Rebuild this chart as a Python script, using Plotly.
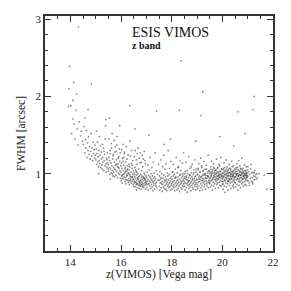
import plotly.graph_objects as go

# ---- data: z(VIMOS) magnitude and FWHM [arcsec] ----
mag_bright = [14.02,14.05,14.10,14.15,14.18,14.22,14.27,14.30,14.35,14.40,14.44,14.48,
    14.52,14.54,14.57,14.60,14.61,14.63,14.66,14.68,14.70,14.72,14.74,14.76,14.78,14.80,14.82,14.84,14.86,14.88,14.90,14.92,14.94,14.96,14.97,14.99,14.58]
fwhm_bright = [1.88,1.52,1.71,1.64,1.45,1.82,1.58,1.37,1.67,1.49,1.55,1.42,
    1.38,1.61,1.27,1.44,1.33,1.56,1.21,1.40,1.30,1.48,1.25,1.35,1.19,1.29,1.52,1.23,1.33,1.17,1.41,1.26,1.31,1.20,1.37,1.24,1.72]

mag_15 = [15.01,15.02,15.04,15.05,15.07,15.08,15.10,15.11,15.13,15.14,15.16,15.17,15.19,15.20,15.22,15.23,15.25,15.26,15.28,15.29,15.31,15.32,15.34,15.35,15.37,15.38,15.40,15.41,15.43,15.44,15.46,15.47,15.49,15.03,15.15,15.27,15.39,15.12,15.33,15.45,
    15.50,15.51,15.52,15.54,15.55,15.56,15.58,15.59,15.60,15.62,15.63,15.64,15.66,15.67,15.68,15.70,15.71,15.72,15.74,15.75,15.76,15.78,15.79,15.80,15.82,15.83,15.84,15.86,15.87,15.88,15.90,15.91,15.92,15.94,15.95,15.96,15.98,15.99,15.53,15.57,15.61,15.65,15.69,15.73,15.77,15.81,15.85,15.89,15.93,15.97,15.58,15.66,15.74,15.82,15.90]
fwhm_15 = [1.18,1.32,1.12,1.26,1.41,1.15,1.22,1.09,1.30,1.17,1.13,1.24,1.36,1.08,1.19,1.28,1.11,1.06,1.21,1.15,1.33,1.04,1.17,1.25,1.10,1.45,1.13,1.02,1.20,1.08,1.27,1.14,1.06,1.55,1.48,1.38,1.62,1.00,1.29,1.18,
    1.12,1.03,1.21,1.08,1.17,0.99,1.26,1.06,1.14,1.01,1.33,1.10,1.04,1.19,0.97,1.23,1.08,1.02,1.15,0.96,1.28,1.05,1.11,0.98,1.18,1.03,1.37,1.09,0.95,1.13,1.01,1.22,1.07,0.99,1.16,1.04,0.94,1.10,1.45,1.30,1.39,1.52,1.25,1.43,1.35,1.29,1.48,1.20,1.32,1.27,0.93,1.00,1.06,1.12,1.08]

mag_16 = [16.00,16.01,16.02,16.03,16.04,16.05,16.06,16.08,16.09,16.10,16.11,16.12,16.13,16.15,16.16,16.17,16.18,16.19,16.20,16.22,16.23,16.24,16.25,16.26,16.27,16.29,16.30,16.31,16.32,16.33,16.34,16.36,16.37,16.38,16.39,16.40,16.41,16.43,16.44,16.45,16.46,16.47,16.48,16.49,16.02,16.07,16.14,16.21,16.28,16.35,16.42,16.05,16.12,16.19,16.26,16.33,16.40,16.47,16.09,16.16,16.23,16.30,16.37,16.44,16.04,16.18,16.32,16.46,16.11,16.25,
    16.50,16.51,16.52,16.53,16.54,16.55,16.56,16.57,16.58,16.59,16.60,16.61,16.62,16.63,16.64,16.65,16.66,16.67,16.68,16.69,16.70,16.71,16.72,16.73,16.74,16.75,16.76,16.77,16.78,16.79,16.80,16.81,16.82,16.83,16.84,16.85,16.86,16.87,16.88,16.89,16.90,16.91,16.92,16.93,16.94,16.95,16.96,16.97,16.98,16.99,
    16.52,16.56,16.60,16.64,16.68,16.72,16.76,16.80,16.84,16.88,16.92,16.96,16.54,16.62,16.70,16.78,16.86,16.94,16.58,16.66,16.74,16.82,16.90,16.98,16.53,16.63,16.73,16.83,16.93,16.61]
fwhm_16 = [1.02,0.91,1.14,0.97,1.07,0.88,1.20,0.99,1.04,0.93,1.11,0.96,1.26,1.01,0.90,1.08,0.95,1.15,0.87,1.03,0.98,1.19,0.92,1.06,1.00,0.89,1.12,0.94,1.05,0.86,1.09,0.97,1.23,0.91,1.02,0.88,1.13,0.95,1.07,0.90,0.99,1.17,0.86,1.04,1.31,1.38,1.28,1.35,1.24,1.42,1.30,0.94,1.00,0.92,1.10,0.99,0.96,0.93,1.16,1.06,0.97,1.01,0.93,1.11,0.98,1.03,0.91,0.96,1.21,1.05,
    0.92,0.84,1.01,0.88,0.96,1.08,0.83,0.94,0.89,1.03,0.86,0.98,0.91,1.12,0.82,0.95,0.87,1.00,0.93,0.85,1.06,0.90,0.81,0.97,0.88,1.14,0.84,0.92,0.99,0.86,0.80,0.95,1.04,0.89,0.83,0.93,1.09,0.87,0.96,0.82,0.91,1.01,0.85,0.94,0.88,1.17,0.80,0.92,0.86,0.97,
    1.22,1.30,1.18,1.26,1.33,1.20,1.27,1.15,1.24,1.19,1.29,1.13,0.90,0.87,0.96,0.91,0.84,0.99,1.05,0.93,0.89,0.86,0.95,0.90,0.99,1.02,0.85,0.97,0.93,0.79]

mag_17 = [17.00,17.01,17.02,17.03,17.04,17.05,17.06,17.07,17.08,17.09,17.10,17.11,17.12,17.13,17.14,17.15,17.16,17.17,17.18,17.19,17.20,17.21,17.22,17.23,17.24,17.25,17.26,17.27,17.28,17.29,17.30,17.31,17.32,17.33,17.34,17.35,17.36,17.37,17.38,17.39,17.40,17.42,17.44,17.46,17.48,
    17.50,17.51,17.52,17.53,17.54,17.55,17.56,17.57,17.58,17.59,17.60,17.61,17.62,17.63,17.64,17.65,17.66,17.67,17.68,17.69,17.70,17.71,17.72,17.73,17.74,17.75,17.76,17.77,17.78,17.79,17.80,17.81,17.82,17.83,17.84,17.85,17.86,17.87,17.88,17.89,17.90,17.91,17.92,17.93,17.94,17.95,17.96,17.97,17.98,17.99]
fwhm_17 = [0.88,0.95,0.82,1.02,0.90,0.86,1.11,0.93,0.79,0.98,0.87,1.05,0.91,0.84,0.96,1.21,0.89,0.81,0.94,1.00,0.86,0.92,1.08,0.83,0.97,0.90,0.78,1.15,0.88,0.94,0.85,1.01,0.91,0.80,0.96,1.27,0.87,0.93,0.84,1.04,0.89,0.82,0.99,0.92,1.12,
    0.91,0.84,0.97,0.79,1.03,0.88,0.93,1.18,0.82,0.95,0.87,1.00,0.90,0.77,1.09,0.86,0.94,0.83,0.98,1.24,0.89,0.81,0.92,1.06,0.85,0.96,0.80,0.91,1.13,0.87,0.93,0.78,1.01,0.89,0.84,0.97,1.30,0.86,0.92,0.82,0.99,0.88,1.07,0.83,0.94,0.79,0.90,1.16,0.85,0.96]

mag_18 = [18.00,18.01,18.02,18.03,18.04,18.05,18.06,18.07,18.08,18.09,18.10,18.11,18.12,18.13,18.14,18.15,18.16,18.17,18.18,18.19,18.20,18.21,18.22,18.23,18.24,18.25,18.26,18.27,18.28,18.29,18.30,18.31,18.32,18.33,18.34,18.35,18.36,18.37,18.38,18.39,18.40,18.41,18.42,18.43,18.44,18.45,18.46,18.47,18.48,18.49,
    18.05,18.15,18.25,18.35,18.45,
    18.50,18.51,18.52,18.53,18.54,18.55,18.56,18.57,18.58,18.59,18.60,18.61,18.62,18.63,18.64,18.65,18.66,18.67,18.68,18.69,18.70,18.71,18.72,18.73,18.74,18.75,18.76,18.77,18.78,18.79,18.80,18.81,18.82,18.83,18.84,18.85,18.86,18.87,18.88,18.89,18.90,18.91,18.92,18.93,18.94,18.95,18.96,18.97,18.98,18.99,
    18.52,18.57,18.62,18.67,18.72,18.77,18.82,18.87,18.92,18.97]
fwhm_18 = [0.87,0.93,0.80,1.02,0.89,0.84,0.97,1.12,0.82,0.91,0.86,0.99,0.78,0.94,1.06,0.88,0.83,0.95,1.21,0.90,0.85,0.79,1.01,0.92,0.87,0.96,0.81,1.09,0.89,0.84,0.93,0.77,0.98,1.17,0.86,0.91,0.82,1.04,0.88,0.95,0.80,0.90,1.14,0.85,0.97,0.83,0.92,1.27,0.87,0.94,
    1.02,0.96,1.08,0.99,1.00,
    0.90,0.84,0.96,0.79,1.03,0.88,0.93,1.15,0.82,0.97,0.87,0.92,0.76,1.00,0.89,0.85,0.95,1.22,0.81,0.91,0.86,0.98,1.07,0.83,0.94,0.88,0.78,1.01,0.90,0.85,0.96,1.12,0.82,0.92,0.87,0.99,0.80,1.05,0.89,0.94,0.84,1.18,0.91,0.86,0.97,0.79,1.02,0.88,0.93,0.83,
    1.00,0.95,1.04,0.91,0.98,1.09,0.93,1.01,0.96,1.06]

mag_19 = [19.00,19.01,19.02,19.03,19.04,19.05,19.06,19.07,19.08,19.09,19.10,19.11,19.12,19.13,19.14,19.15,19.16,19.17,19.18,19.19,19.20,19.21,19.22,19.23,19.24,19.25,19.26,19.27,19.28,19.29,19.30,19.31,19.32,19.33,19.34,19.35,19.36,19.37,19.38,19.39,19.40,19.41,19.42,19.43,19.44,19.45,19.46,19.47,19.48,19.49,
    19.02,19.05,19.08,19.12,19.15,19.18,19.22,19.25,19.28,19.32,19.35,19.38,19.42,19.45,19.48,
    19.50,19.51,19.52,19.53,19.54,19.55,19.56,19.57,19.58,19.59,19.60,19.61,19.62,19.63,19.64,19.65,19.66,19.67,19.68,19.69,19.70,19.71,19.72,19.73,19.74,19.75,19.76,19.77,19.78,19.79,19.80,19.81,19.82,19.83,19.84,19.85,19.86,19.87,19.88,19.89,19.90,19.91,19.92,19.93,19.94,19.95,19.96,19.97,19.98,19.99,
    19.51,19.53,19.55,19.57,19.59,19.61,19.63,19.65,19.67,19.69,19.71,19.73,19.75,19.77,19.79,19.81,19.83,19.85,19.87,19.89,19.91,19.93,19.95,19.97,19.99]
fwhm_19 = [0.92,0.86,0.99,0.81,1.05,0.89,0.95,1.13,0.84,0.97,0.90,0.78,1.02,0.93,0.87,1.20,0.82,0.96,0.91,1.08,0.85,0.98,0.79,0.94,1.03,0.88,0.93,1.16,0.83,1.00,0.90,0.86,1.06,0.95,0.80,0.98,0.91,1.11,0.87,0.94,0.84,1.01,0.97,0.89,1.24,0.82,0.96,0.92,1.04,0.88,
    0.99,1.07,0.93,1.02,0.96,1.10,0.91,1.04,0.98,1.00,0.94,1.06,0.97,1.03,0.90,
    0.94,0.87,1.02,0.83,1.09,0.91,0.97,1.16,0.85,1.00,0.92,0.79,1.05,0.95,0.89,1.13,0.84,0.98,0.93,1.07,0.87,1.01,0.81,0.96,1.04,0.90,0.94,1.19,0.86,1.02,0.92,0.88,1.08,0.97,0.82,1.00,0.93,1.12,0.89,0.96,0.85,1.03,0.99,0.91,1.21,0.84,0.97,0.94,1.06,0.90,
    1.00,0.95,1.06,0.98,1.03,0.93,1.01,1.08,0.96,1.04,0.99,0.92,1.05,1.00,0.97,1.07,0.94,1.02,0.98,1.10,0.95,1.03,0.99,1.06,0.97]

mag_20 = [20.00,20.01,20.02,20.03,20.04,20.05,20.06,20.07,20.08,20.09,20.10,20.11,20.12,20.13,20.14,20.15,20.16,20.17,20.18,20.19,20.20,20.21,20.22,20.23,20.24,20.25,20.26,20.27,20.28,20.29,20.30,20.31,20.32,20.33,20.34,20.35,20.36,20.37,20.38,20.39,20.40,20.41,20.42,20.43,20.44,20.45,20.46,20.47,20.48,20.49,
    20.01,20.03,20.04,20.06,20.07,20.09,20.10,20.12,20.13,20.15,20.16,20.18,20.19,20.21,20.22,20.24,20.25,20.27,20.28,20.30,20.31,20.33,20.34,20.36,20.37,20.39,20.40,20.42,20.43,20.45,20.46,20.48,20.02,20.23,20.44,
    20.50,20.51,20.52,20.53,20.54,20.55,20.56,20.57,20.58,20.59,20.60,20.61,20.62,20.63,20.64,20.65,20.66,20.67,20.68,20.69,20.70,20.71,20.72,20.73,20.74,20.75,20.76,20.77,20.78,20.79,20.80,20.81,20.82,20.83,20.84,20.85,20.86,20.87,20.88,20.89,20.90,20.91,20.92,20.93,20.94,20.95,20.96,20.97,20.98,20.99,
    20.51,20.53,20.54,20.56,20.57,20.59,20.61,20.62,20.64,20.66,20.67,20.69,20.71,20.72,20.74,20.76,20.77,20.79,20.81,20.82,20.84,20.86,20.87,20.89,20.91,20.92,20.94,20.96,20.97,20.99]
fwhm_20 = [0.93,0.86,1.01,0.80,1.07,0.90,0.96,1.14,0.84,0.99,0.91,0.76,1.04,0.95,0.88,1.18,0.83,0.98,0.93,1.09,0.87,1.02,0.79,0.97,1.05,0.90,0.94,1.12,0.85,1.01,0.92,0.88,1.07,0.96,0.81,1.00,0.93,1.16,0.89,0.97,0.84,1.03,0.99,0.91,1.10,0.82,0.96,0.94,1.06,0.89,
    1.00,0.95,1.05,0.97,1.02,0.92,1.08,0.99,1.03,0.94,1.06,1.00,0.96,1.04,0.91,1.01,0.98,1.07,0.93,1.02,0.97,1.05,0.99,0.94,1.03,1.09,0.96,1.01,0.98,1.04,0.92,1.00,0.87,0.90,0.86,
    0.96,0.88,1.03,0.83,1.08,0.92,0.98,1.13,0.86,1.00,0.93,0.79,1.05,0.97,0.90,1.17,0.85,0.99,0.94,1.10,0.89,1.03,0.82,0.98,1.06,0.91,0.95,1.20,0.87,1.01,0.93,0.89,1.07,0.97,0.84,1.01,0.94,1.11,0.90,0.98,0.86,1.04,1.00,0.92,1.09,0.85,0.97,0.95,1.05,0.91,
    1.01,0.96,1.06,0.99,1.03,0.94,1.08,1.00,0.97,1.04,0.92,1.02,0.98,1.07,0.95,1.01,0.99,1.05,0.93,1.03,0.97,1.00,0.96,1.04,0.98,0.94,1.02,0.99,0.95,1.01]

mag_21 = [21.00,21.02,21.04,21.06,21.08,21.10,21.12,21.14,21.16,21.18,21.20,21.22,21.24,21.26,21.28,21.30,21.32,21.34,21.36,21.38,21.01,21.07,21.13,21.19,21.25]
fwhm_21 = [0.97,0.91,1.03,0.88,0.99,0.94,1.06,0.90,1.01,0.95,0.87,1.02,0.97,0.92,1.04,0.96,0.99,0.93,1.00,0.95,1.09,0.85,1.12,0.89,1.01]

mag_outlier = [13.97,14.32,18.37,14.13,13.95,14.83,19.23,21.26,13.93,17.40,18.30,19.16,20.63,21.20,16.35,15.55,16.55,17.10,17.95,19.90,20.90,21.65,21.75,14.25,14.10,14.70,15.95,17.70,18.95,20.45,21.45,15.40]
fwhm_outlier = [2.39,2.90,2.46,2.18,2.10,2.16,2.06,2.00,1.87,1.81,1.82,1.75,1.80,1.83,1.88,1.72,1.58,1.50,1.45,1.48,1.52,0.98,0.80,2.03,1.95,1.83,1.62,1.38,1.42,1.36,1.00,1.70]

x_ticks = [14, 16, 18, 20, 22]
y_ticks = [1, 2, 3]

mag, fwhm = [], []
for mx, fy in [(mag_bright, fwhm_bright), (mag_15, fwhm_15), (mag_16, fwhm_16), (mag_17, fwhm_17),
               (mag_18, fwhm_18), (mag_19, fwhm_19), (mag_20, fwhm_20), (mag_21, fwhm_21),
               (mag_outlier, fwhm_outlier)]:
    for a, b in zip(mx, fy):
        mag.append(a)
        fwhm.append(b)

FONT = "Liberation Serif"

fig = go.Figure()
fig.add_trace(go.Scatter(
    x=mag, y=fwhm, mode="markers",
    marker=dict(size=1.8, color="#1a1a1a", opacity=0.5, line=dict(width=0)),
    hoverinfo="skip", showlegend=False,
))

axis_common = dict(
    showgrid=False, zeroline=False, showline=True, linecolor="#333333", linewidth=1.5,
    mirror="allticks", ticks="inside", ticklen=6, tickwidth=1, tickcolor="#333333",
    tickfont=dict(family=FONT, size=11, color="#222222"),
)

fig.update_xaxes(
    range=[13, 22], tickvals=x_ticks, ticktext=[str(v) for v in x_ticks],
    minor=dict(dtick=0.5, tick0=13, ticks="inside", ticklen=3, tickcolor="#333333"),
    title=dict(text="z(VIMOS) [Vega mag]", font=dict(family=FONT, size=11.5, color="#222222"), standoff=3),
    **axis_common,
)
fig.update_yaxes(
    range=[0, 3.04], tickvals=y_ticks, ticktext=[str(v) for v in y_ticks],
    minor=dict(dtick=0.2, tick0=0, ticks="inside", ticklen=3, tickcolor="#333333"),
    title=dict(text="FWHM [arcsec]", font=dict(family=FONT, size=11.5, color="#222222"), standoff=8),
    **axis_common,
)

fig.add_annotation(x=16.35, y=2.83, xref="x", yref="y", text="ESIS VIMOS", showarrow=False,
                   xanchor="left", yanchor="middle", font=dict(family=FONT, size=14, color="#111111"))
fig.add_annotation(x=16.35, y=2.66, xref="x", yref="y", text="<b>z band</b>", showarrow=False,
                   xanchor="left", yanchor="middle", font=dict(family=FONT, size=10, color="#111111"))

fig.update_layout(
    width=291, height=291,
    margin=dict(l=45, r=16, t=16, b=32),
    paper_bgcolor="white", plot_bgcolor="white",
)

fig.write_html("out.html", config={"displayModeBar": False},
               post_script="document.body.style.margin='0';document.body.style.overflow='hidden';")
